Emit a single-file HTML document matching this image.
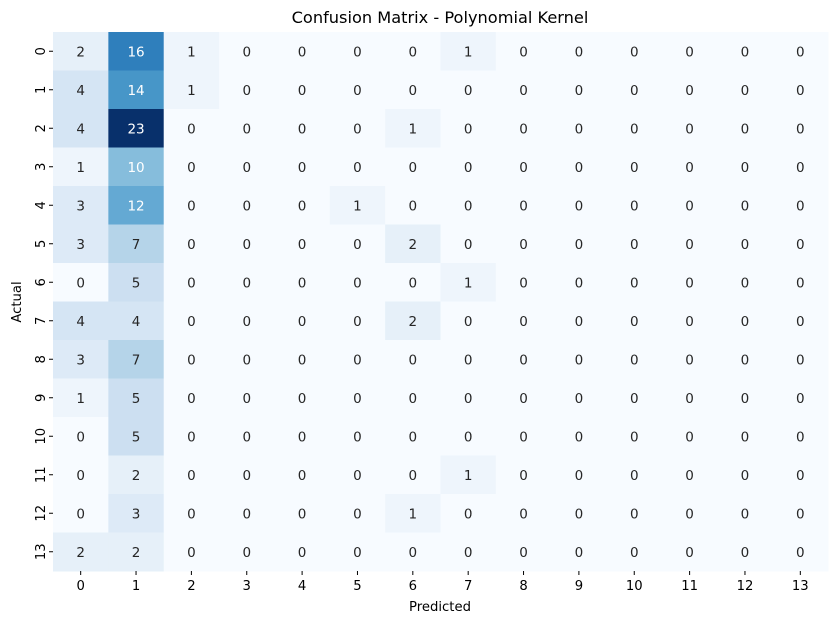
<!DOCTYPE html>
<html><head><meta charset="utf-8"><style>
body{margin:0;background:#fff;font-family:"Liberation Sans","DejaVu Sans",sans-serif}
svg text{font-family:"DejaVu Sans","Liberation Sans",sans-serif}
</style></head><body>
<svg id="chart" width="838" height="624" xmlns="http://www.w3.org/2000/svg">
<text x="440" y="23" text-anchor="middle" font-size="16.2" fill="#000">Confusion Matrix - Polynomial Kernel</text>
<g id="cells"></g>
<text x="440" y="611" text-anchor="middle" font-size="13.2" fill="#000">Predicted</text>
<text transform="translate(21,302) rotate(-90)" text-anchor="middle" font-size="13.2" fill="#000">Actual</text>
</svg>
<script>
const labels = ["0","1","2","3","4","5","6","7","8","9","10","11","12","13"];
const matrix = [
[2,16,1,0,0,0,0,1,0,0,0,0,0,0],
[4,14,1,0,0,0,0,0,0,0,0,0,0,0],
[4,23,0,0,0,0,1,0,0,0,0,0,0,0],
[1,10,0,0,0,0,0,0,0,0,0,0,0,0],
[3,12,0,0,0,1,0,0,0,0,0,0,0,0],
[3,7,0,0,0,0,2,0,0,0,0,0,0,0],
[0,5,0,0,0,0,0,1,0,0,0,0,0,0],
[4,4,0,0,0,0,2,0,0,0,0,0,0,0],
[3,7,0,0,0,0,0,0,0,0,0,0,0,0],
[1,5,0,0,0,0,0,0,0,0,0,0,0,0],
[0,5,0,0,0,0,0,0,0,0,0,0,0,0],
[0,2,0,0,0,0,0,1,0,0,0,0,0,0],
[0,3,0,0,0,0,1,0,0,0,0,0,0,0],
[2,2,0,0,0,0,0,0,0,0,0,0,0,0]
];
const L=53,T=32,R=828,B=571;
const cw=(R-L)/labels.length, ch=(B-T)/labels.length;
const xPos=i=>L+i*cw, yPos=i=>T+i*ch;
const stops=["#f7fbff","#deebf7","#c6dbef","#9ecae1","#6baed6","#4292c6","#2171b5","#08519c","#08306b"].map(h=>[1,3,5].map(k=>parseInt(h.substr(k,2),16)));
function blues(t){t=Math.max(0,Math.min(1,t))*8;const i=Math.min(7,Math.floor(t)),f=t-i;const c=stops[i].map((v,k)=>Math.round(v+(stops[i+1][k]-v)*f));return `rgb(${c})`;}
let mx=0;matrix.forEach(r=>r.forEach(v=>{if(v>mx)mx=v;}));
const NS="http://www.w3.org/2000/svg", g=document.getElementById('cells'), svg=document.getElementById('chart');
matrix.forEach((row,r)=>row.forEach((v,c)=>{
 const rect=document.createElementNS(NS,'rect');
 rect.setAttribute('x',xPos(c));rect.setAttribute('y',yPos(r));
 rect.setAttribute('width',cw+0.5);rect.setAttribute('height',ch+0.5);
 rect.setAttribute('fill',blues(v/mx));
 
 
 g.appendChild(rect);
 const t=document.createElementNS(NS,'text');
 t.setAttribute('x',xPos(c)+cw/2);t.setAttribute('y',yPos(r)+ch/2+5);
 t.setAttribute('text-anchor','middle');t.setAttribute('font-size','13.5');
 t.setAttribute('fill',v/mx>0.4?'#fff':'#262626');
 t.textContent=v;
 
 
 g.appendChild(t);
}));
labels.forEach((lab,i)=>{
 const xc=xPos(i)+cw/2;
 const tk=document.createElementNS(NS,'line');
 tk.setAttribute('x1',xc);tk.setAttribute('x2',xc);tk.setAttribute('y1',B);tk.setAttribute('y2',B+4);tk.setAttribute('stroke','#000');
 
 
 svg.appendChild(tk);
 const tx=document.createElementNS(NS,'text');
 tx.setAttribute('x',xc);tx.setAttribute('y',B+19);tx.setAttribute('text-anchor','middle');tx.setAttribute('font-size','13.2');
 tx.textContent=lab;
 
 
 svg.appendChild(tx);
 const yc=yPos(i)+ch/2;
 const ty=document.createElementNS(NS,'line');
 ty.setAttribute('x1',L-4);ty.setAttribute('x2',L);ty.setAttribute('y1',yc);ty.setAttribute('y2',yc);ty.setAttribute('stroke','#000');
 
 
 svg.appendChild(ty);
 const yl=document.createElementNS(NS,'text');
 yl.setAttribute('transform',`translate(${L-8},${yc}) rotate(-90)`);yl.setAttribute('text-anchor','middle');yl.setAttribute('font-size','13.2');
 yl.textContent=lab;
 
 
 svg.appendChild(yl);
});
</script>
</body></html>
